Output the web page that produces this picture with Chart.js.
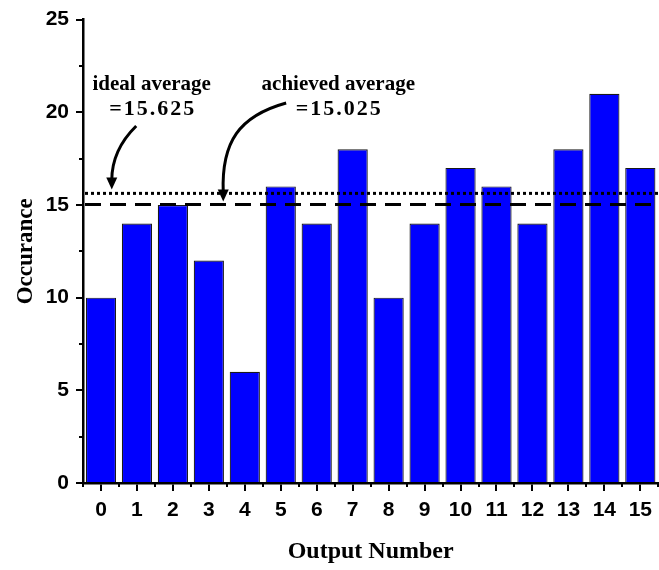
<!DOCTYPE html>
<html>
<head>
<meta charset="utf-8">
<script src="https://cdn.jsdelivr.net/npm/chart.js@4.4.1/dist/chart.umd.min.js"></script>
<style>
  html, body { margin: 0; padding: 0; background: #fff; overflow: hidden; }
  #wrap { width: 659px; height: 570px; position: relative; }
</style>
</head>
<body>
<div id="wrap"><canvas id="c"></canvas></div>
<script>
// Occurrence count for each output number
const outputs = ['0','1','2','3','4','5','6','7','8','9','10','11','12','13','14','15'];
const occurrences = [10, 14, 15, 12, 6, 16, 14, 18, 10, 14, 17, 16, 14, 18, 21, 17];
const yTicks = [0, 5, 10, 15, 20, 25];
const idealAverage = 15.625;
const achievedAverage = 15.025;

const serifFamily = '"Liberation Serif", "Times New Roman", serif';
const sansFamily = '"Liberation Sans", Arial, sans-serif';

// Minor ticks, reference lines, annotations and arrows
const decorations = {
  id: 'decorations',
  afterDatasetsDraw(chart) {
    const { ctx, chartArea: a, scales: { x, y } } = chart;
    ctx.save();

    // minor ticks on the y axis (half steps)
    ctx.strokeStyle = '#000';
    ctx.lineWidth = 2;
    for (let v = 2.5; v < 25; v += 5) {
      const py = Math.round(y.getPixelForValue(v));
      ctx.beginPath(); ctx.moveTo(a.left - 4, py); ctx.lineTo(a.left, py); ctx.stroke();
    }
    // minor ticks on the x axis (between categories)
    for (let i = 0; i <= outputs.length; i++) {
      const px = Math.round(x.getPixelForValue(i - 0.5));
      ctx.beginPath(); ctx.moveTo(px, a.bottom); ctx.lineTo(px, a.bottom + 4); ctx.stroke();
    }

    // ideal average: dotted line
    const yIdeal = y.getPixelForValue(idealAverage);
    ctx.lineWidth = 3;
    ctx.setLineDash([3, 3]);
    ctx.beginPath(); ctx.moveTo(a.left + 2, yIdeal); ctx.lineTo(a.right, yIdeal); ctx.stroke();

    // achieved average: dashed line
    const yAch = y.getPixelForValue(achievedAverage);
    ctx.setLineDash([16, 9]);
    ctx.beginPath(); ctx.moveTo(a.left + 2, yAch); ctx.lineTo(a.right, yAch); ctx.stroke();
    ctx.setLineDash([]);

    // annotation text
    ctx.fillStyle = '#000';
    ctx.textAlign = 'center';
    ctx.textBaseline = 'middle';
    const t1x = x.getPixelForValue(1.41);
    const t2x = x.getPixelForValue(6.6);
    const tTop = y.getPixelForValue(21.5);
    const tBot = y.getPixelForValue(20.15);
    ctx.font = 'bold 21px ' + serifFamily;
    ctx.fillText('ideal average', t1x, tTop);
    ctx.fillText('achieved average', t2x, tTop);
    ctx.font = 'bold 22px ' + serifFamily;
    ctx.letterSpacing = '2px';
    ctx.fillText('=15.625', t1x + 1, tBot);
    ctx.fillText('=15.025', t2x + 1, tBot);
    ctx.letterSpacing = '0px';

    // curved arrows pointing at the lines
    function arrow(sx, sy, cx1, cy1, cx2, cy2, ex, ey) {
      ctx.lineWidth = 3;
      ctx.beginPath();
      ctx.moveTo(sx, sy);
      ctx.bezierCurveTo(cx1, cy1, cx2, cy2, ex, ey - 9);
      ctx.stroke();
      ctx.beginPath();
      ctx.moveTo(ex - 5.5, ey - 12);
      ctx.lineTo(ex + 5.5, ey - 12);
      ctx.lineTo(ex, ey);
      ctx.closePath();
      ctx.fill();
    }
    const a1x = x.getPixelForValue(0.3);
    arrow(x.getPixelForValue(0.98), y.getPixelForValue(19.26),
          a1x + 12, y.getPixelForValue(18.6),
          a1x, y.getPixelForValue(17.6),
          a1x, yIdeal - 4);
    const a2x = x.getPixelForValue(3.4);
    arrow(x.getPixelForValue(5.15), y.getPixelForValue(20.5),
          a2x + 16, y.getPixelForValue(19.8),
          a2x - 2, y.getPixelForValue(18.4),
          a2x, yAch - 3);

    ctx.restore();
  }
};

new Chart(document.getElementById('c'), {
  type: 'bar',
  data: {
    labels: outputs,
    datasets: [{
      data: occurrences,
      backgroundColor: '#0000FF',
      borderColor: '#1a1a1a',
      borderWidth: 1.2,
      categoryPercentage: 1,
      barPercentage: 0.84
    }]
  },
  options: {
    responsive: true,
    maintainAspectRatio: false,
    animation: false,
    layout: { padding: { top: 14, right: 0, left: 0, bottom: 0 } },
    plugins: { legend: { display: false }, tooltip: { enabled: false } },
    scales: {
      x: {
        offset: true,
        border: { display: true, color: '#000', width: 2.5 },
        grid: { display: true, drawOnChartArea: false, drawTicks: true, tickLength: 8, color: '#000', lineWidth: 2, offset: false },
        ticks: { color: '#000', font: { family: sansFamily, weight: 'bold', size: 21 }, padding: 7, maxRotation: 0, autoSkip: false },
        title: { display: true, text: 'Output Number', color: '#000', font: { family: serifFamily, weight: 'bold', size: 24 }, padding: { top: 0, bottom: 4 } },
        afterFit(scale) { scale.height = 87; }
      },
      y: {
        min: 0, max: 25,
        afterBuildTicks(scale) { scale.ticks = yTicks.map(v => ({ value: v })); },
        border: { display: true, color: '#000', width: 2.5 },
        grid: { display: true, drawOnChartArea: false, drawTicks: true, tickLength: 7, color: '#000', lineWidth: 2 },
        ticks: { color: '#000', font: { family: sansFamily, weight: 'bold', size: 21 }, padding: 7 },
        title: { display: true, text: 'Occurance', color: '#000', font: { family: serifFamily, weight: 'bold', size: 23 }, padding: { top: 12, bottom: 0 } },
        afterFit(scale) { scale.width = 83; }
      }
    }
  },
  plugins: [decorations]
});
</script>
</body>
</html>
